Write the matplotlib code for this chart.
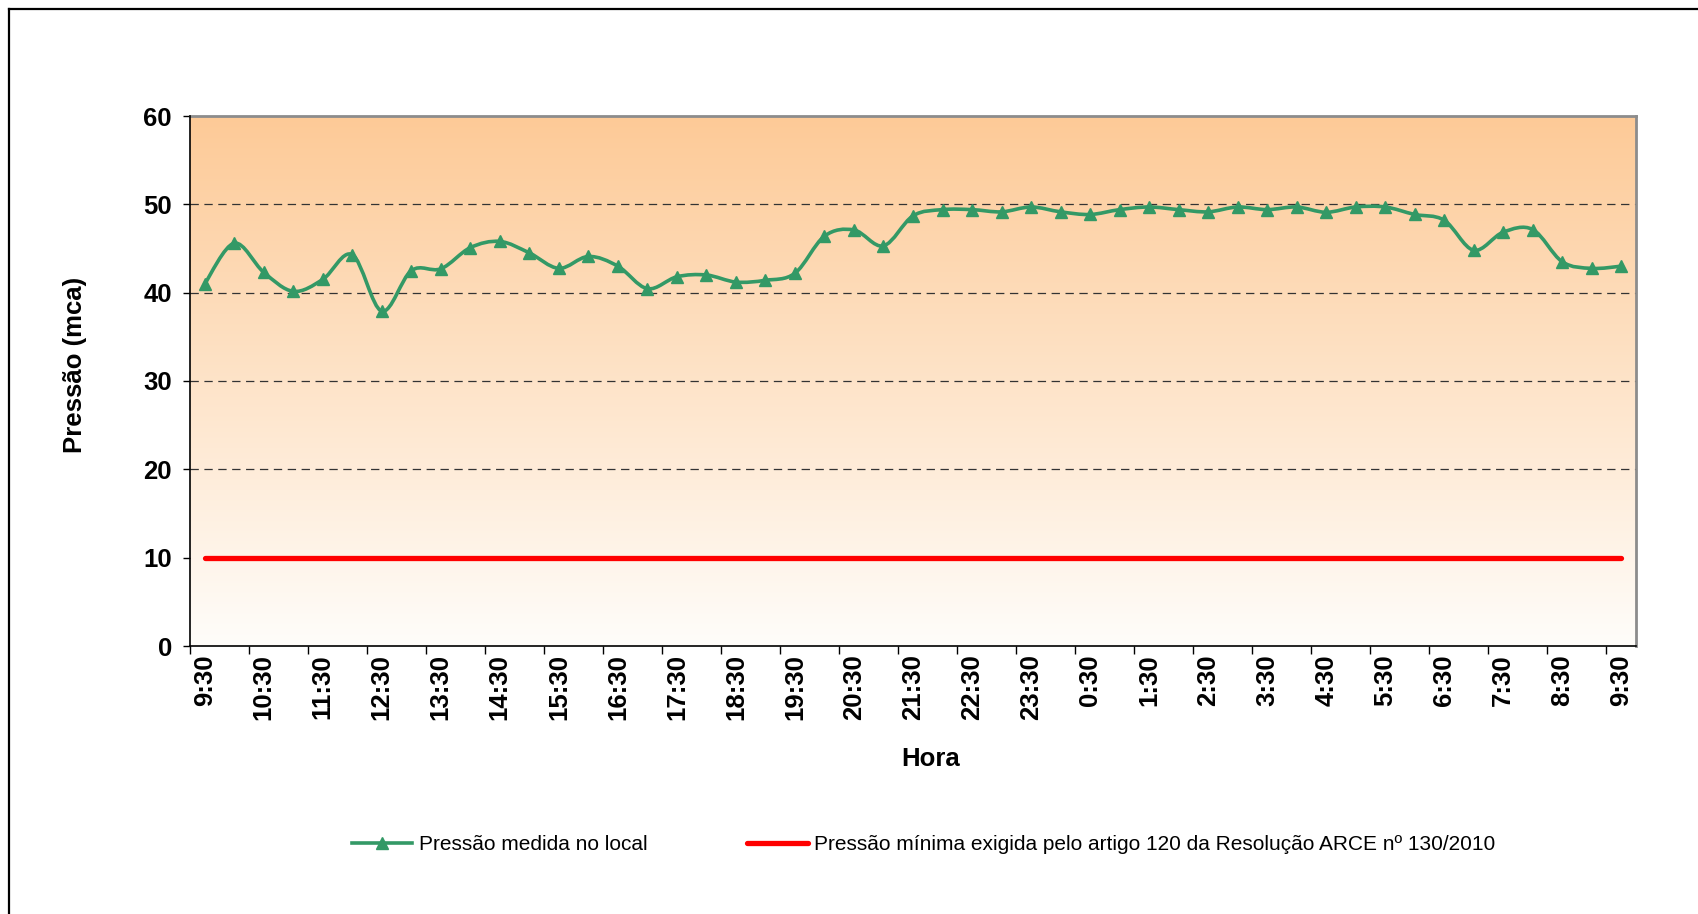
import numpy as np
import matplotlib
matplotlib.use("Agg")
import matplotlib.pyplot as plt
from matplotlib.path import Path
from matplotlib.patches import PathPatch
from matplotlib.lines import Line2D
from matplotlib.colors import LinearSegmentedColormap

plt.rcParams['font.family'] = ['Liberation Sans', 'DejaVu Sans']
plt.rcParams['lines.scale_dashes'] = False

# leituras a cada 30 min, de 9:30 ate 9:30 do dia seguinte
pressao_medida = [41.0, 45.6, 42.3, 40.15, 41.5, 44.3, 37.9, 42.5, 42.7, 45.1,
                  45.8, 44.5, 42.75, 44.1, 43.0, 40.45, 41.8, 42.0, 41.2, 41.4,
                  42.2, 46.4, 47.1, 45.3, 48.7, 49.4, 49.4, 49.15, 49.7, 49.15,
                  48.85, 49.4, 49.7, 49.4, 49.15, 49.7, 49.4, 49.7, 49.1, 49.7,
                  49.7, 48.85, 48.2, 44.8, 46.85, 47.15, 43.5, 42.75, 43.0]
pressao_minima = 10
rotulos_hora = ["9:30", "10:30", "11:30", "12:30", "13:30", "14:30", "15:30",
                "16:30", "17:30", "18:30", "19:30", "20:30", "21:30", "22:30",
                "23:30", "0:30", "1:30", "2:30", "3:30", "4:30", "5:30", "6:30",
                "7:30", "8:30", "9:30"]
nome_medida = "Pressão medida no local"
nome_minima = "Pressão mínima exigida pelo artigo 120 da Resolução ARCE nº 130/2010"

verde = '#339966'
vermelho = '#FF0000'

x = np.arange(len(pressao_medida))
y = np.array(pressao_medida, dtype=float)

fig = plt.figure(figsize=(16.99, 9.14), dpi=100)
ax = fig.add_axes([190/1699, 1 - 646/914, 1446/1699, 530/914])
ax.set_xlim(-0.5, len(x) - 0.5)
ax.set_ylim(0, 60)

# fundo em degrade laranja -> branco
cmap = LinearSegmentedColormap.from_list('fundo', ['#FFFDFA', '#FDCA97'])
ax.imshow(np.linspace(0, 1, 256).reshape(-1, 1), extent=[-0.5, len(x) - 0.5, 0, 60],
          aspect='auto', cmap=cmap, origin='lower', zorder=0)

for g in [20, 30, 40, 50]:
    ax.axhline(g, color='#333333', lw=0.9, linestyle=(0, (6, 4)), zorder=1)

# linha suavizada (bezier como no excel)
pts = np.column_stack([x, y])
verts = [pts[0]]
codes = [Path.MOVETO]
n = len(pts)
for i in range(n - 1):
    p0 = pts[max(i - 1, 0)]
    p1 = pts[i]
    p2 = pts[i + 1]
    p3 = pts[min(i + 2, n - 1)]
    c1 = p1 + (p2 - p0) / 6.0
    c2 = p2 - (p3 - p1) / 6.0
    verts += [c1, c2, p2]
    codes += [Path.CURVE4] * 3
ax.add_patch(PathPatch(Path(verts, codes), fill=False, edgecolor=verde, lw=2.6,
                       capstyle='round', joinstyle='round', zorder=3))
ax.plot(x, y, linestyle='none', marker='^', color=verde, markersize=8, zorder=4)

ax.plot(x, [pressao_minima] * len(x), color=vermelho, lw=3.8,
        solid_capstyle='round', zorder=3)

# eixos
for s in ['top', 'right']:
    ax.spines[s].set_color('#8c8c8c')
    ax.spines[s].set_linewidth(2)
for s in ['left', 'bottom']:
    ax.spines[s].set_color('black')
    ax.spines[s].set_linewidth(1.2)
    ax.spines[s].set_zorder(5)

ax.set_yticks(range(0, 61, 10))
ax.tick_params(axis='y', direction='out', length=5, width=1, pad=8,
               labelsize=18.5)
for t in ax.get_yticklabels():
    t.set_fontweight('bold')

ax.set_xticks(x[::2])
ax.set_xticklabels(rotulos_hora, rotation=90, fontsize=18.5, fontweight='bold',
                   va='top', ha='center')
ax.set_xticks(np.arange(-0.5, len(x) - 1, 2), minor=True)
ax.tick_params(axis='x', which='major', length=0, pad=6)
ax.tick_params(axis='x', which='minor', direction='out', length=6, width=1)

ax.set_xlabel('Hora', fontsize=18.5, fontweight='bold')
ax.xaxis.set_label_coords(0.512, -0.19)
ax.set_ylabel('Pressão (mca)', fontsize=18.5, fontweight='bold')
ax.yaxis.set_label_coords(-0.071, 0.53)

# legenda
handles = [Line2D([], [], color=verde, lw=2.6, marker='^', markersize=8),
           Line2D([], [], color=vermelho, lw=3.8, solid_capstyle='round')]
fig.legend(handles, [nome_medida, nome_minima], loc='center left', ncol=2,
           bbox_to_anchor=(352/1699, 1 - 845/914), frameon=False,
           fontsize=15, handlelength=2.9, handletextpad=0.3, columnspacing=4.8,
           borderpad=0, borderaxespad=0)

# moldura externa
fig.add_artist(Line2D([9/1699, 1], [1 - 9/914, 1 - 9/914], transform=fig.transFigure,
                      color='black', lw=1.6))
fig.add_artist(Line2D([9/1699, 9/1699], [0, 1 - 9/914], transform=fig.transFigure,
                      color='black', lw=1.6))

fig.savefig('out.png', dpi=100)
